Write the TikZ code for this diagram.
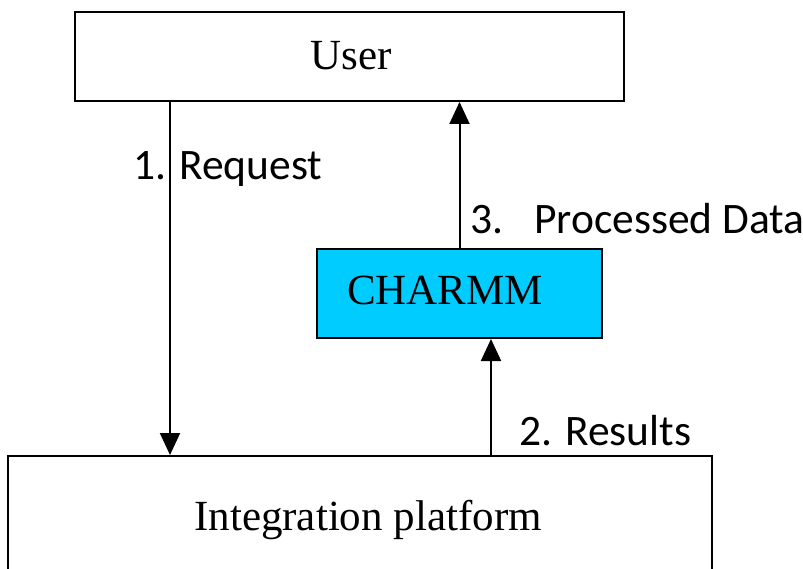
\documentclass[tikz,border=0pt]{standalone}
\usepackage{fontspec}
\setmainfont{Liberation Serif}
\newfontfamily\labelfont{Carlito}
\usetikzlibrary{arrows.meta}
\definecolor{charmmcyan}{RGB}{0,204,255}
\begin{document}
\begin{tikzpicture}[x=1pt,y=-1pt,
  box/.style={draw=black,line width=2pt,fill=white,rectangle,inner sep=0pt},
  boxtext/.style={inner sep=0pt,font=\fontsize{43}{50}\selectfont},
  lbl/.style={inner sep=0pt,font=\labelfont\fontsize{43.5}{50}\selectfont},
  arr/.style={line width=2pt,-{Triangle[length=22pt,width=20pt]}}]
\useasboundingbox (0,0) rectangle (803,569);
\clip (0,0) rectangle (803,569);
\fill[white] (0,0) rectangle (803,569);
% boxes
\node[box,minimum width=549pt,minimum height=89pt] (user) at (349.5,56.5) {};
\node[box,fill=charmmcyan,minimum width=285pt,minimum height=89pt] (charmm) at (459.5,293.5) {};
\node[box,minimum width=704pt,minimum height=150pt] (integ) at (360,531) {};
% box texts
\node[boxtext,anchor=base] (usertxt) at (351,70) {User};
\node[boxtext,anchor=base west] (charmmtxt) at (347,305) {CHARMM};
\node[boxtext,anchor=base] (integtxt) at (368,530) {Integration platform};
% connectors
\draw[arr] ([xshift=96pt]user.south west) -- ([xshift=96pt]user.south west |- integ.north);
\draw[arr] (charmm.north) -- (charmm.north |- user.south);
\draw[arr] ([xshift=175pt]charmm.south west |- integ.north) -- ([xshift=175pt]charmm.south west);
% labels
\node[lbl,anchor=base west] (req) at (133,180) {1. Request};
\node[lbl,anchor=base west] (proc) at (470,234) {3.\hspace{31pt}Processed Data};
\node[lbl,anchor=base west] (res) at (519,445) {2. Results};
\end{tikzpicture}
\end{document}
